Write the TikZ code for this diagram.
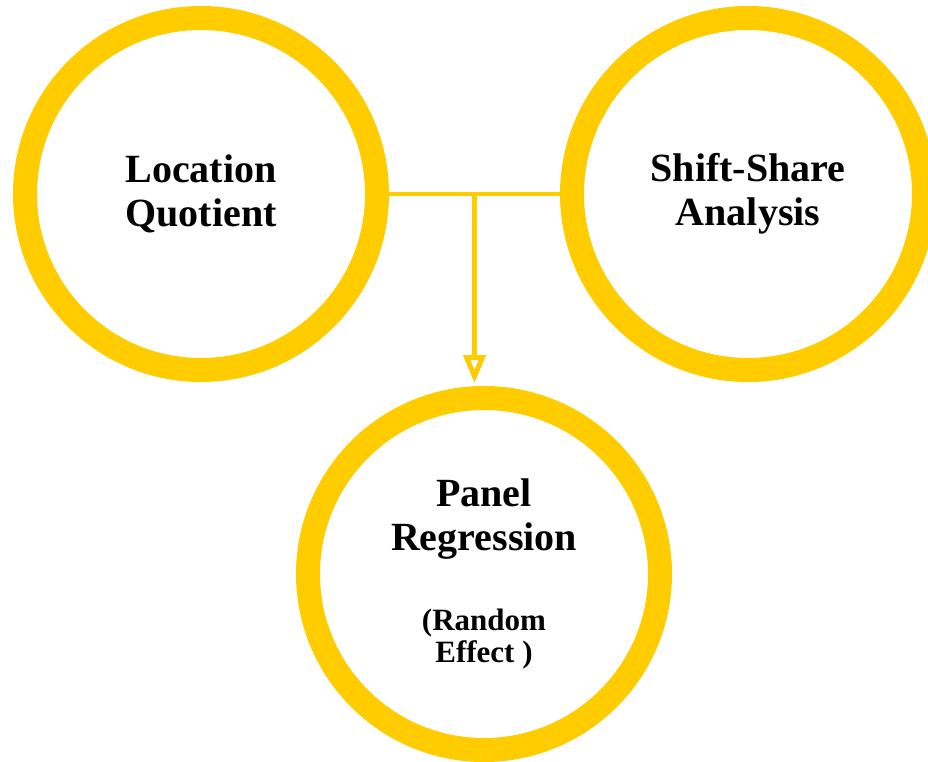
\documentclass[tikz,border=0pt]{standalone}
\usepackage{fontspec}
\setmainfont{Liberation Serif}
\usepackage{xcolor}
\usepackage{tikz}
\usetikzlibrary{arrows.meta,positioning}
\usetikzlibrary{calc}
\definecolor{ringyellow}{RGB}{255,204,0}
\newcommand{\smalltxt}{\fontsize{31}{32}\selectfont}

\begin{document}
\begin{tikzpicture}[
  x=1pt, y=-1pt,
  node distance=171pt,
  ring/.style={circle, draw=ringyellow, line width=24pt, minimum size=352pt, align=center,
    font=\bfseries\fontsize{40}{44}\selectfont},
  link/.style={draw=ringyellow, line width=4pt},
  arr/.style={-{Triangle[open, length=28pt, width=22pt]}, draw=ringyellow, line width=5pt, shorten >=3pt}
]
  \clip (0,0) rectangle (928,762);
  \useasboundingbox (0,0) rectangle (928,762);

  \node[ring] (lq) at (201,194) {Location\\Quotient};
  \node[ring, right=of lq] (ssa) {Shift-Share\\Analysis};
  \node[ring] (pr) at (484,574) {Panel\\Regression\\[36pt]{\smalltxt (Random}\\[-12pt]{\smalltxt Effect )}};

  \coordinate (split) at ($(lq.east)!0.5!(ssa.west)$);

  \draw[link] (lq) -- (ssa);
  \draw[arr] (split) -- (split |- pr.north);
\end{tikzpicture}
\end{document}
